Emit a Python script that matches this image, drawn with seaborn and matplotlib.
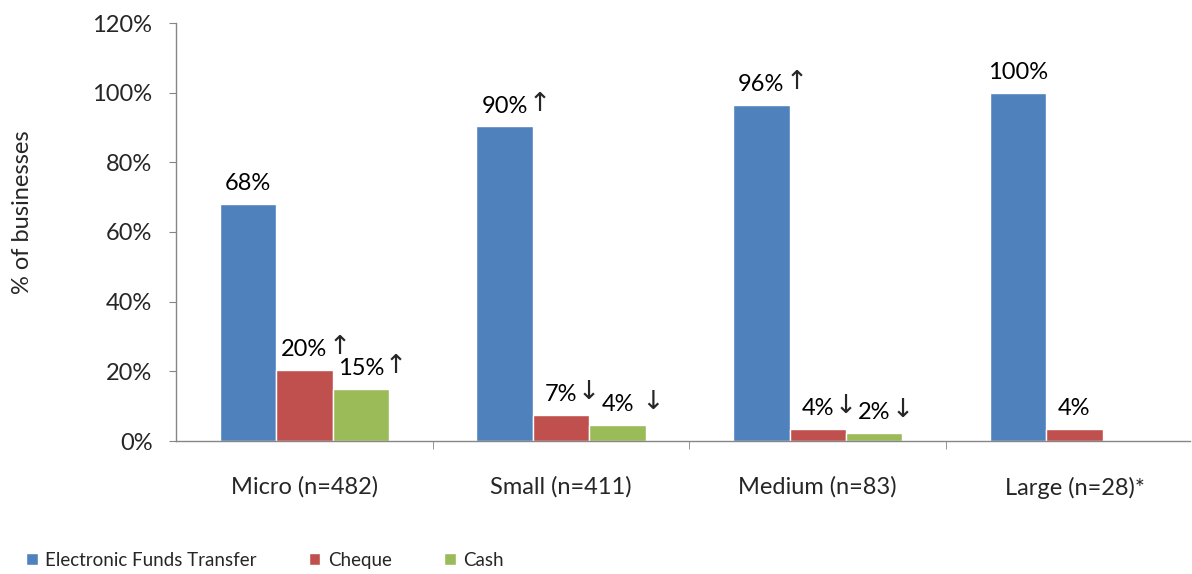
import pandas as pd
import matplotlib.pyplot as plt
import seaborn as sns
from matplotlib.ticker import FuncFormatter, FixedLocator

# Chart data
sizes = ["Micro (n=482)", "Small (n=411)", "Medium (n=83)", "Large (n=28)*"]
methods = ["Electronic Funds Transfer", "Cheque", "Cash"]
eft = [68, 90.3, 96.4, 100]
cheque = [20.5, 7.5, 3.5, 3.5]
cash = [15, 4.7, 2.4, 0]
eft_labels = ["68%", "90%", "96%", "100%"]
cheque_labels = ["20%", "7%", "4%", "4%"]
cash_labels = ["15%", "4%", "2%", ""]
# significance arrows appended after the numbers
eft_arrows = ["", "↑", "↑", ""]
cheque_arrows = ["↑", "↓", "↓", ""]
cash_arrows = ["↑", " ↓", "↓", ""]
colors = ["#4F81BD", "#C0504D", "#9BBB59"]

df = pd.DataFrame({
    "size": sizes * 3,
    "method": [methods[0]] * 4 + [methods[1]] * 4 + [methods[2]] * 4,
    "pct": eft + cheque + cash,
})

sns.set_style("white")
plt.rcParams["font.family"] = ["Lato", "DejaVu Sans"]
gray = "#868686"
fs = 17

fig = plt.figure(figsize=(11.92, 5.74), dpi=100)
ax = fig.add_axes([176 / 1192, 1 - 441 / 574, (1190 - 176) / 1192, (441 - 23) / 574])

sns.barplot(data=df, x="size", y="pct", hue="method", palette=colors,
            width=0.66, saturation=1, ax=ax, order=sizes, hue_order=methods)

# Data labels: number centred on the bar, arrow tacked on after it
for cont, labs, arrs in zip(ax.containers,
                            [eft_labels, cheque_labels, cash_labels],
                            [eft_arrows, cheque_arrows, cash_arrows]):
    texts = ax.bar_label(cont, labels=labs, padding=7, fontsize=fs, color="black")
    for t, a in zip(texts, arrs):
        if a:
            ax.annotate(a, xy=(1, 0), xycoords=t, xytext=(0.5, 0),
                        textcoords="offset points", ha="left", va="bottom",
                        fontsize=19, family=["DejaVu Sans"])

ax.set_ylim(0, 120)
ax.set_xlim(-0.5, 3.45)
ax.yaxis.set_major_locator(FixedLocator(range(0, 121, 20)))
ax.yaxis.set_major_formatter(FuncFormatter(lambda v, p: f"{int(v)}%"))
ax.tick_params(axis="y", left=True, length=5, color=gray, labelsize=fs, pad=12)
ax.tick_params(axis="x", bottom=False, labelsize=fs, pad=22)
ax.xaxis.set_minor_locator(FixedLocator([0.5, 1.5, 2.5]))
ax.tick_params(axis="x", which="minor", bottom=True, length=6, color=gray)

ax.set_xlabel("")
ax.set_ylabel("% of businesses", fontsize=fs)
ax.yaxis.set_label_coords(-0.141, 0.548)

for s in ["top", "right"]:
    ax.spines[s].set_visible(False)
for s in ["left", "bottom"]:
    ax.spines[s].set_color(gray)
    ax.spines[s].set_linewidth(1)

handles, labels = ax.get_legend_handles_labels()
ax.get_legend().remove()
fig.legend(handles, labels, loc="lower left", bbox_to_anchor=(0.008, -0.02),
           ncol=3, frameon=False, fontsize=13.5, handlelength=0.6, handleheight=0.6,
           handletextpad=0.4, columnspacing=2.8)

fig.savefig("out.png", dpi=100)
